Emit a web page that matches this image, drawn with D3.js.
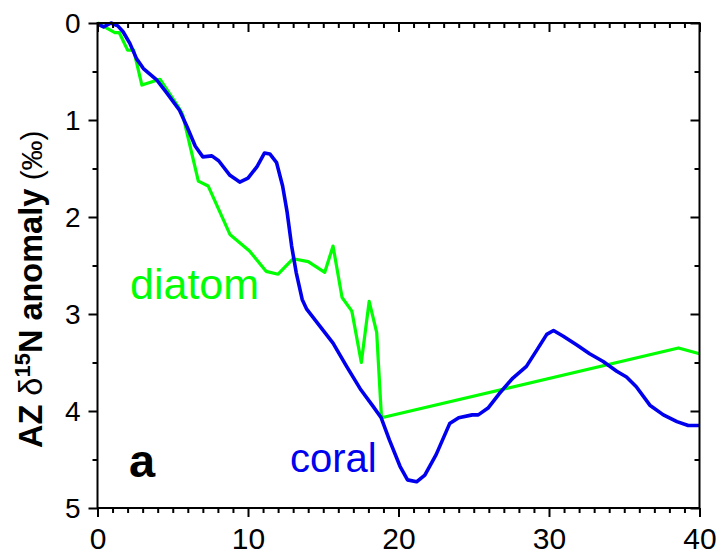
<!DOCTYPE html>
<html>
<head>
<meta charset="utf-8">
<script src="https://cdn.jsdelivr.net/npm/d3@7"></script>
<style>
  html, body { margin: 0; padding: 0; background: #fff; }
  svg { display: block; font-family: "Liberation Sans", Arial, sans-serif; }
</style>
</head>
<body>
<svg id="chart" width="721" height="559"></svg>
<script>
// ---- data ----
const coralX = [0, 0.4, 0.9, 1.35, 1.7, 2.15, 2.6, 3.05, 3.5, 3.95, 4.6, 5.45, 5.95, 6.5, 7.0, 7.6, 8.05, 8.8, 9.45, 10.0, 10.6, 11.1, 11.45, 11.9, 12.3, 12.6, 12.9, 13.2, 13.6, 13.9, 14.8, 15.65, 16.55, 17.45, 18.3, 18.85, 19.4, 20.1, 20.6, 21.2, 21.75, 22.5, 23.4, 24.0, 24.9, 25.3, 25.95, 26.7, 27.6, 28.5, 29.2, 29.85, 30.3, 30.95, 31.85, 32.7, 33.6, 34.5, 35.15, 35.8, 36.7, 37.6, 38.5, 39.25, 40];
const coralY = [0.01, 0.04, 0.0, 0.03, 0.09, 0.21, 0.37, 0.47, 0.53, 0.59, 0.72, 0.9, 1.07, 1.27, 1.38, 1.37, 1.42, 1.57, 1.64, 1.6, 1.48, 1.34, 1.35, 1.44, 1.68, 1.95, 2.3, 2.57, 2.85, 2.95, 3.13, 3.3, 3.54, 3.77, 3.95, 4.07, 4.3, 4.57, 4.71, 4.73, 4.66, 4.45, 4.13, 4.07, 4.04, 4.04, 3.97, 3.82, 3.66, 3.54, 3.37, 3.21, 3.17, 3.23, 3.32, 3.41, 3.49, 3.59, 3.65, 3.75, 3.94, 4.04, 4.11, 4.15, 4.15];
const diatomX = [0, 1.15, 1.45, 2.0, 2.4, 2.95, 4.15, 5.35, 5.65, 6.7, 7.35, 8.8, 10.1, 11.2, 12.0, 13.0, 14.0, 15.1, 15.65, 16.25, 16.9, 17.53, 18.05, 18.55, 18.87, 38.6, 40];
const diatomY = [0, 0.1, 0.1, 0.28, 0.28, 0.64, 0.58, 0.86, 0.94, 1.63, 1.68, 2.18, 2.35, 2.56, 2.59, 2.43, 2.46, 2.57, 2.3, 2.83, 2.97, 3.5, 2.87, 3.19, 4.07, 3.35, 3.41];
const xMajorTicks = [0, 10, 20, 30, 40];
const yMajorTicks = [0, 1, 2, 3, 4, 5];
const seriesNames = ["diatom", "coral"];
const panelLabel = "a";

// ---- layout ----
const pL = 97.5, pR = 699.5, pT = 23, pB = 508;
const svg = d3.select("#chart");
const x = d3.scaleLinear().domain([0, 40]).range([pL, pR]);
const y = d3.scaleLinear().domain([0, 5]).range([pT, pB]);

const blue = "#0000ee", green = "#00ff00";

svg.append("clipPath").attr("id", "clip").append("rect")
  .attr("x", pL).attr("y", pT - 2).attr("width", pR - pL).attr("height", pB - pT + 4);

const line = d3.line().x(d => x(d[0])).y(d => y(d[1]));
const diatom = diatomX.map((v, i) => [v, diatomY[i]]);
const coral = coralX.map((v, i) => [v, coralY[i]]);

const g = svg.append("g").attr("clip-path", "url(#clip)");
g.append("path").datum(diatom).attr("d", line)
  .attr("fill", "none").attr("stroke", green).attr("stroke-width", 3.2).attr("stroke-linejoin", "round");
g.append("path").datum(coral).attr("d", line)
  .attr("fill", "none").attr("stroke", blue).attr("stroke-width", 3.6).attr("stroke-linejoin", "round");

// ---- axes ----
const xMinor = d3.range(0, 41, 1).filter(v => v % 10 !== 0);
const yMinor = d3.range(0.5, 5, 1);

function styleAxis(sel) {
  sel.select(".domain").remove();
  sel.selectAll(".tick line").attr("stroke", "#000").attr("stroke-width", 2);
}

svg.append("g").attr("transform", `translate(0,${pB})`)
  .call(d3.axisBottom(x).tickValues(xMajorTicks).tickSize(9).tickPadding(8).tickFormat(d3.format("d")))
  .call(styleAxis)
  .call(s => s.selectAll("text").attr("font-size", 30).attr("fill", "#000")
    .attr("font-family", "Liberation Sans, Arial, sans-serif").attr("dy", null).attr("y", 41));
svg.append("g").attr("transform", `translate(0,${pB})`)
  .call(d3.axisBottom(x).tickValues(xMinor).tickSize(5).tickFormat(""))
  .call(styleAxis);
svg.append("g").attr("transform", `translate(0,${pT})`)
  .call(d3.axisBottom(x).tickValues(xMajorTicks).tickSize(9).tickFormat(""))
  .call(styleAxis);
svg.append("g").attr("transform", `translate(0,${pT})`)
  .call(d3.axisBottom(x).tickValues(xMinor).tickSize(5).tickFormat(""))
  .call(styleAxis);
svg.append("g").attr("transform", `translate(${pL},0)`)
  .call(d3.axisLeft(y).tickValues(yMajorTicks).tickSize(9).tickPadding(8).tickFormat(d3.format("d")))
  .call(styleAxis)
  .call(s => s.selectAll("text").attr("font-size", 28).attr("fill", "#000")
    .attr("font-family", "Liberation Sans, Arial, sans-serif").attr("x", -17).attr("dy", "0.35em"));
svg.append("g").attr("transform", `translate(${pL},0)`)
  .call(d3.axisLeft(y).tickValues(yMinor).tickSize(5).tickFormat(""))
  .call(styleAxis);
svg.append("g").attr("transform", `translate(${pR},0)`)
  .call(d3.axisLeft(y).tickValues(yMajorTicks).tickSize(9).tickFormat(""))
  .call(styleAxis);
svg.append("g").attr("transform", `translate(${pR},0)`)
  .call(d3.axisLeft(y).tickValues(yMinor).tickSize(5).tickFormat(""))
  .call(styleAxis);

svg.append("rect").attr("x", pL).attr("y", pT).attr("width", pR - pL).attr("height", pB - pT)
  .attr("fill", "none").attr("stroke", "#000").attr("stroke-width", 2);

// ---- y label ----
const yl = svg.append("text")
  .attr("transform", "translate(42,448) rotate(-90)")
  .attr("text-anchor", "start")
  .attr("font-size", 32.5).attr("fill", "#000");
yl.append("tspan").attr("font-weight", "bold").text("AZ ");
yl.append("tspan").attr("font-weight", "normal").text("δ");
yl.append("tspan").attr("font-weight", "bold").attr("font-size", 22).attr("dy", -12).text("15");
yl.append("tspan").attr("font-weight", "bold").attr("dy", 12).text("N anomaly");
yl.append("tspan").attr("font-weight", "normal").attr("font-size", 30).text(" (‰)");

// ---- annotations ----
svg.append("text").attr("x", 130).attr("y", 299).attr("font-size", 43).attr("fill", green).text(seriesNames[0]);
svg.append("text").attr("x", 290).attr("y", 472).attr("font-size", 40).attr("fill", blue).text(seriesNames[1]);
svg.append("text").attr("x", 129).attr("y", 477).attr("font-size", 47).attr("font-weight", "bold").attr("fill", "#000").text(panelLabel);
</script>
</body>
</html>
